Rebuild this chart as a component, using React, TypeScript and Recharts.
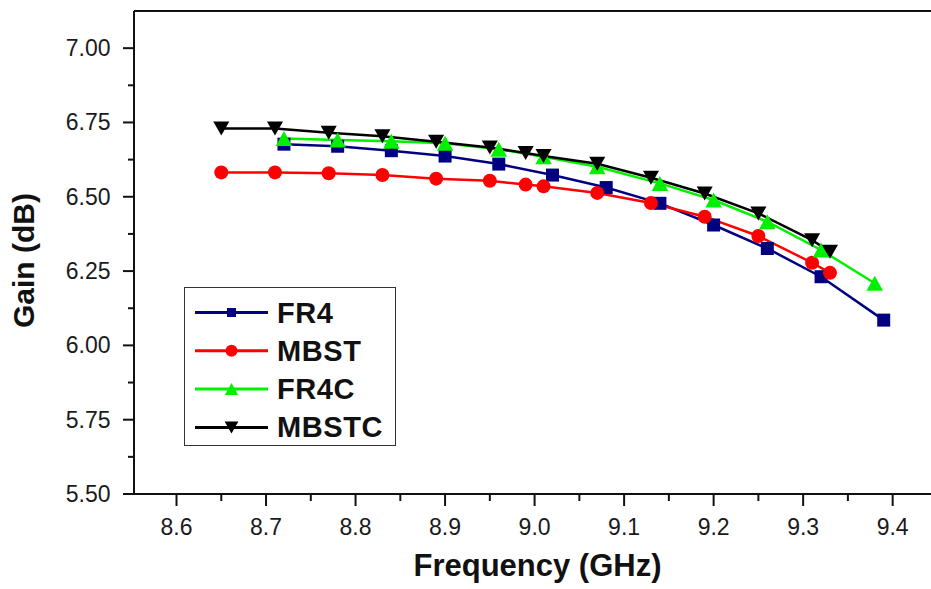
import React from 'react';
import { LineChart, Line, XAxis, YAxis, ReferenceLine } from 'recharts';

// ---- data ----
const fr4Freq = [8.72, 8.78, 8.84, 8.9, 8.96, 9.02, 9.08, 9.14, 9.2, 9.26, 9.32, 9.39];
const fr4Gain = [6.677, 6.67, 6.655, 6.637, 6.61, 6.573, 6.531, 6.478, 6.405, 6.326, 6.231, 6.085];

const mbstFreq = [8.65, 8.71, 8.77, 8.83, 8.89, 8.95, 8.99, 9.01, 9.07, 9.13, 9.19, 9.25, 9.31, 9.33];
const mbstGain = [6.582, 6.582, 6.579, 6.573, 6.561, 6.554, 6.541, 6.535, 6.513, 6.479, 6.433, 6.368, 6.278, 6.244];

const fr4cFreq = [8.72, 8.78, 8.84, 8.9, 8.96, 9.01, 9.07, 9.14, 9.2, 9.26, 9.32, 9.38];
const fr4cGain = [6.696, 6.691, 6.687, 6.68, 6.66, 6.635, 6.601, 6.545, 6.489, 6.416, 6.321, 6.209];

const mbstcFreq = [8.65, 8.71, 8.77, 8.83, 8.89, 8.95, 8.99, 9.01, 9.07, 9.13, 9.19, 9.25, 9.31, 9.33];
const mbstcGain = [6.73, 6.73, 6.715, 6.704, 6.685, 6.666, 6.647, 6.637, 6.611, 6.564, 6.511, 6.444, 6.354, 6.315];

const xTicks = [8.6, 8.65, 8.7, 8.75, 8.8, 8.85, 8.9, 8.95, 9.0, 9.05, 9.1, 9.15, 9.2, 9.25, 9.3, 9.35, 9.4, 9.45];
const xMajorTicks = [8.6, 8.7, 8.8, 8.9, 9.0, 9.1, 9.2, 9.3, 9.4];
const yTicks = [5.5, 5.625, 5.75, 5.875, 6.0, 6.125, 6.25, 6.375, 6.5, 6.625, 6.75, 6.875, 7.0];
const yMajorTicks = [5.5, 5.75, 6.0, 6.25, 6.5, 6.75, 7.0];

const seriesNames = ['FR4', 'MBST', 'FR4C', 'MBSTC'];

const toRows = (fs: number[], gs: number[]) => fs.map((f, i) => ({ freq: f, gain: gs[i] }));

const COLORS = { FR4: '#000080', MBST: '#ff0000', FR4C: '#00f000', MBSTC: '#000000' };
const KINDS = { FR4: 'square', MBST: 'circle', FR4C: 'up', MBSTC: 'down' };
const FONT = '"Liberation Sans", Arial, sans-serif';

const isIn = (list: number[], v: number) => list.some((t) => Math.abs(t - v) < 1e-6);

function shapePath(kind: string, cx: number, cy: number, s: number) {
  if (kind === 'square') {
    const h = s / 2;
    return `M${cx - h},${cy - h}h${s}v${s}h${-s}Z`;
  }
  if (kind === 'up') {
    const w = s * 1.1;
    return `M${cx},${cy - s / 2}L${cx + w / 2},${cy + s / 2}L${cx - w / 2},${cy + s / 2}Z`;
  }
  if (kind === 'down') {
    const w = s * 1.15;
    return `M${cx - w / 2},${cy - s / 2}L${cx + w / 2},${cy - s / 2}L${cx},${cy + s / 2}Z`;
  }
  return '';
}

function Marker({ kind, cx, cy, color, size }: any) {
  if (cx == null || cy == null) return null;
  if (kind === 'circle') return <circle cx={cx} cy={cy} r={size / 2} fill={color} stroke="none" />;
  return <path d={shapePath(kind, cx, cy, size)} fill={color} stroke="none" />;
}

const makeDot = (name: string, size: number) => (props: any) => {
  const { cx, cy, index } = props;
  return (
    <Marker key={`${name}-${index}`} kind={(KINDS as any)[name]} cx={cx} cy={cy} color={(COLORS as any)[name]} size={size} />
  );
};

const XTick = (props: any) => {
  const { x, y, payload } = props;
  const major = isIn(xMajorTicks, payload.value);
  return (
    <g>
      <line x1={x} x2={x} y1={y} y2={y + (major ? 12 : 7)} stroke="#111" strokeWidth={2} />
      {major && (
        <text x={x} y={y + 41} textAnchor="middle" fontSize={23} fontFamily={FONT} fill="#1a1a1a">
          {payload.value.toFixed(1)}
        </text>
      )}
    </g>
  );
};

const YTick = (props: any) => {
  const { x, y, payload } = props;
  const major = isIn(yMajorTicks, payload.value);
  return (
    <g>
      <line x1={x} x2={x - (major ? 11 : 6)} y1={y} y2={y} stroke="#111" strokeWidth={2} />
      {major && (
        <text x={x - 23.5} y={y + 8} textAnchor="end" fontSize={23} fontFamily={FONT} fill="#1a1a1a">
          {payload.value.toFixed(2)}
        </text>
      )}
    </g>
  );
};

const YLabel = (props: any) => {
  const vb = props.viewBox || {};
  const cy = vb.y + vb.height / 2 + 8;
  const x = vb.x + 34;
  return (
    <text
      x={x}
      y={cy}
      transform={`rotate(-90, ${x}, ${cy})`}
      textAnchor="middle"
      fontSize={30}
      fontWeight="bold"
      fontFamily={FONT}
      fill="#111"
    >
      Gain (dB)
    </text>
  );
};

const XLabel = (props: any) => {
  const vb = props.viewBox || {};
  const cx = vb.x + vb.width / 2;
  return (
    <text x={cx} y={vb.y + 82} textAnchor="middle" fontSize={31} fontWeight="bold" fontFamily={FONT} fill="#111">
      Frequency (GHz)
    </text>
  );
};

const legendSizes: Record<string, number> = { FR4: 9, MBST: 12, FR4C: 12, MBSTC: 12 };

function LegendBox() {
  return (
    <div
      style={{
        position: 'absolute',
        left: 184,
        top: 287,
        width: 210,
        height: 157,
        border: '1.5px solid #333',
        background: '#fff',
      }}
    >
      <svg width={210} height={157} style={{ display: 'block' }}>
        {seriesNames.map((n, i) => {
          const cy = 24.5 + i * 38.3;
          const color = (COLORS as any)[n];
          return (
            <g key={n}>
              <line x1={10} x2={83} y1={cy} y2={cy} stroke={color} strokeWidth={3} />
              <Marker kind={(KINDS as any)[n]} cx={46.5} cy={cy} color={color} size={legendSizes[n]} />
              <text x={92} y={cy + 10} fontSize={29} fontWeight="bold" fontFamily={FONT} fill="#111" letterSpacing={0.6}>
                {n}
              </text>
            </g>
          );
        })}
      </svg>
    </div>
  );
}

export default function App() {
  const fr4 = toRows(fr4Freq, fr4Gain);
  const mbst = toRows(mbstFreq, mbstGain);
  const fr4c = toRows(fr4cFreq, fr4cGain);
  const mbstc = toRows(mbstcFreq, mbstcGain);
  return (
    <div style={{ position: 'absolute', left: 0, top: 0, width: 931, height: 589, overflow: 'hidden', background: '#fff' }}>
      <LineChart width={950} height={589} margin={{ top: 11, right: 9, bottom: 0, left: 0 }}>
        <XAxis
          dataKey="freq"
          type="number"
          domain={[8.5525, 9.454]}
          allowDataOverflow
          ticks={xTicks}
          interval={0}
          tick={<XTick />}
          tickLine={false}
          tickSize={0}
          tickMargin={0}
          axisLine={{ stroke: '#111', strokeWidth: 2 }}
          height={95}
          label={<XLabel />}
        />
        <YAxis
          type="number"
          domain={[5.5, 7.125]}
          allowDataOverflow
          ticks={yTicks}
          interval={0}
          tick={<YTick />}
          tickLine={false}
          tickSize={0}
          tickMargin={0}
          axisLine={{ stroke: '#111', strokeWidth: 2 }}
          width={134}
          label={<YLabel />}
        />
        <ReferenceLine y={7.125} stroke="#111" strokeWidth={2} />
        <Line data={fr4} dataKey="gain" name="FR4" stroke={COLORS.FR4} strokeWidth={2.5} dot={makeDot('FR4', 13)} activeDot={false} isAnimationActive={false} />
        <Line data={mbst} dataKey="gain" name="MBST" stroke={COLORS.MBST} strokeWidth={2.5} dot={makeDot('MBST', 14)} activeDot={false} isAnimationActive={false} />
        <Line data={fr4c} dataKey="gain" name="FR4C" stroke={COLORS.FR4C} strokeWidth={2.5} dot={makeDot('FR4C', 15)} activeDot={false} isAnimationActive={false} />
        <Line data={mbstc} dataKey="gain" name="MBSTC" stroke={COLORS.MBSTC} strokeWidth={2.5} dot={makeDot('MBSTC', 14)} activeDot={false} isAnimationActive={false} />
      </LineChart>
      <LegendBox />
    </div>
  );
}
